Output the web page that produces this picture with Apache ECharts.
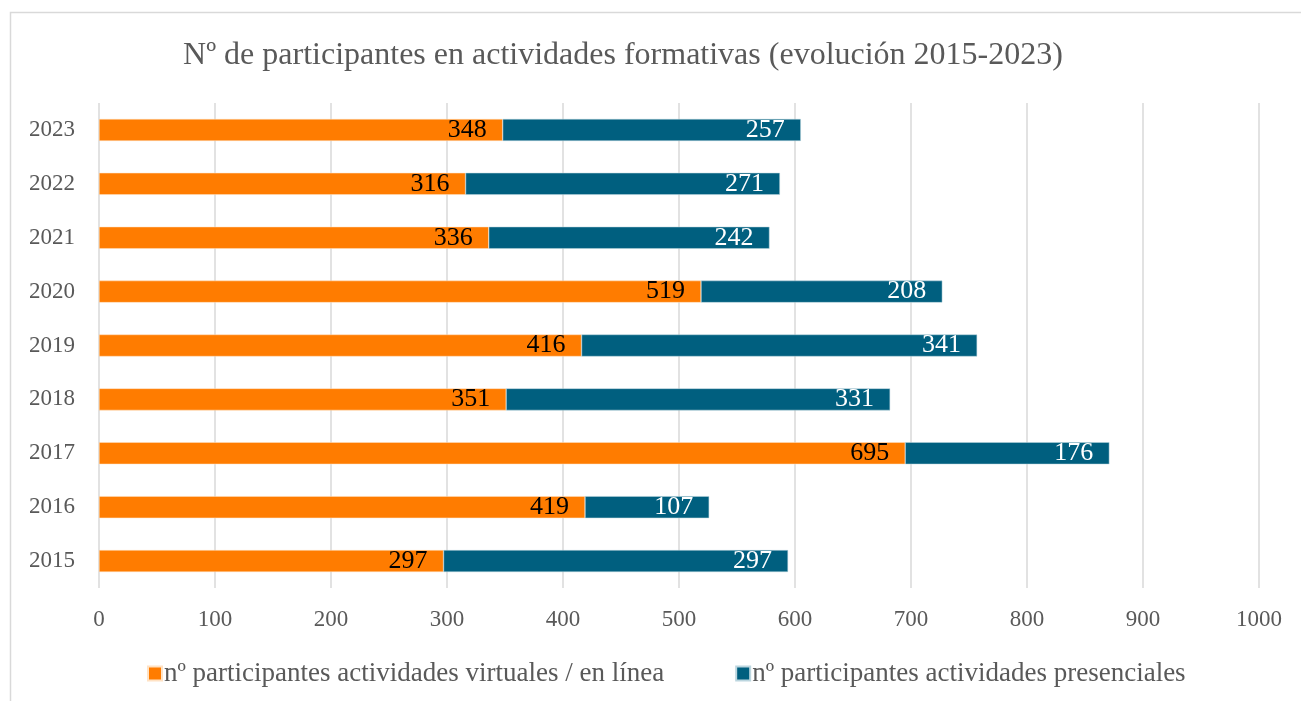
<!DOCTYPE html>
<html>
<head>
<meta charset="utf-8">
<script src="https://cdn.jsdelivr.net/npm/echarts@6/dist/echarts.min.js"></script>
<style>
  html, body { margin: 0; padding: 0; background: #ffffff; }
  #chart { width: 1301px; height: 701px; }
</style>
</head>
<body>
<div id="chart"></div>
<script>
// Years shown on the category axis (bottom to top)
const years = ['2015', '2016', '2017', '2018', '2019', '2020', '2021', '2022', '2023'];
// Participants in virtual / online activities
const virtualValues = [297, 419, 695, 351, 416, 519, 336, 316, 348];
// Participants in in-person activities
const presencialValues = [297, 107, 176, 331, 341, 208, 242, 271, 257];
const seriesNames = [
  'nº participantes actividades virtuales / en línea',
  'nº participantes actividades presenciales'
];

const FONT = '"Liberation Serif", "DejaVu Serif", serif';
const ORANGE = '#FF7C00';
const TEAL = '#005F7F';

const chart = echarts.init(document.getElementById('chart'), null, { renderer: 'canvas' });

chart.setOption({
  backgroundColor: '#ffffff',
  animation: false,
  title: {
    text: 'Nº de participantes en actividades formativas (evolución 2015-2023)',
    left: 618,
    textAlign: 'center',
    top: 35,
    textStyle: { fontFamily: FONT, fontSize: 32, fontWeight: 'normal', color: '#595959' }
  },
  graphic: [{
    type: 'rect',
    shape: { x: 10.5, y: 12.5, width: 1400, height: 800 },
    style: { fill: 'none', stroke: '#d9d9d9', lineWidth: 1.5 },
    silent: true
  }],
  legend: {
    bottom: 9,
    left: 142,
    itemWidth: 14,
    itemHeight: 14,
    itemGap: 71,
    icon: 'rect',
    textStyle: { fontFamily: FONT, fontSize: 27, color: '#595959', padding: [0, 0, 0, -3] },
    data: seriesNames
  },
  grid: { left: 99, right: 42, top: 103, bottom: 113, containLabel: false },
  xAxis: {
    type: 'value',
    min: 0,
    max: 1000,
    interval: 100,
    axisLine: { show: false },
    axisTick: { show: false },
    splitLine: { show: true, lineStyle: { color: '#d9d9d9', width: 1.5 } },
    axisLabel: {
      fontFamily: FONT, fontSize: 23, color: '#595959', margin: 20,
      formatter: (v) => String(v)
    }
  },
  yAxis: {
    type: 'category',
    data: years,
    axisLine: { show: false },
    axisTick: { show: false },
    axisLabel: { fontFamily: FONT, fontSize: 23, color: '#595959', margin: 24 }
  },
  series: [
    {
      name: seriesNames[0],
      type: 'bar',
      stack: 'total',
      data: virtualValues,
      barWidth: 22,
      itemStyle: { color: ORANGE, borderColor: '#ffe2c4', borderWidth: 0.5 },
      label: {
        show: true,
        position: 'insideRight',
        distance: 16,
        fontFamily: FONT,
        fontSize: 26,
        color: '#000000'
      }
    },
    {
      name: seriesNames[1],
      type: 'bar',
      stack: 'total',
      data: presencialValues,
      barWidth: 22,
      itemStyle: { color: TEAL, borderColor: '#bcd6df', borderWidth: 0.5 },
      label: {
        show: true,
        position: 'insideRight',
        distance: 16,
        fontFamily: FONT,
        fontSize: 26,
        color: '#ffffff'
      }
    }
  ]
});
</script>
</body>
</html>
